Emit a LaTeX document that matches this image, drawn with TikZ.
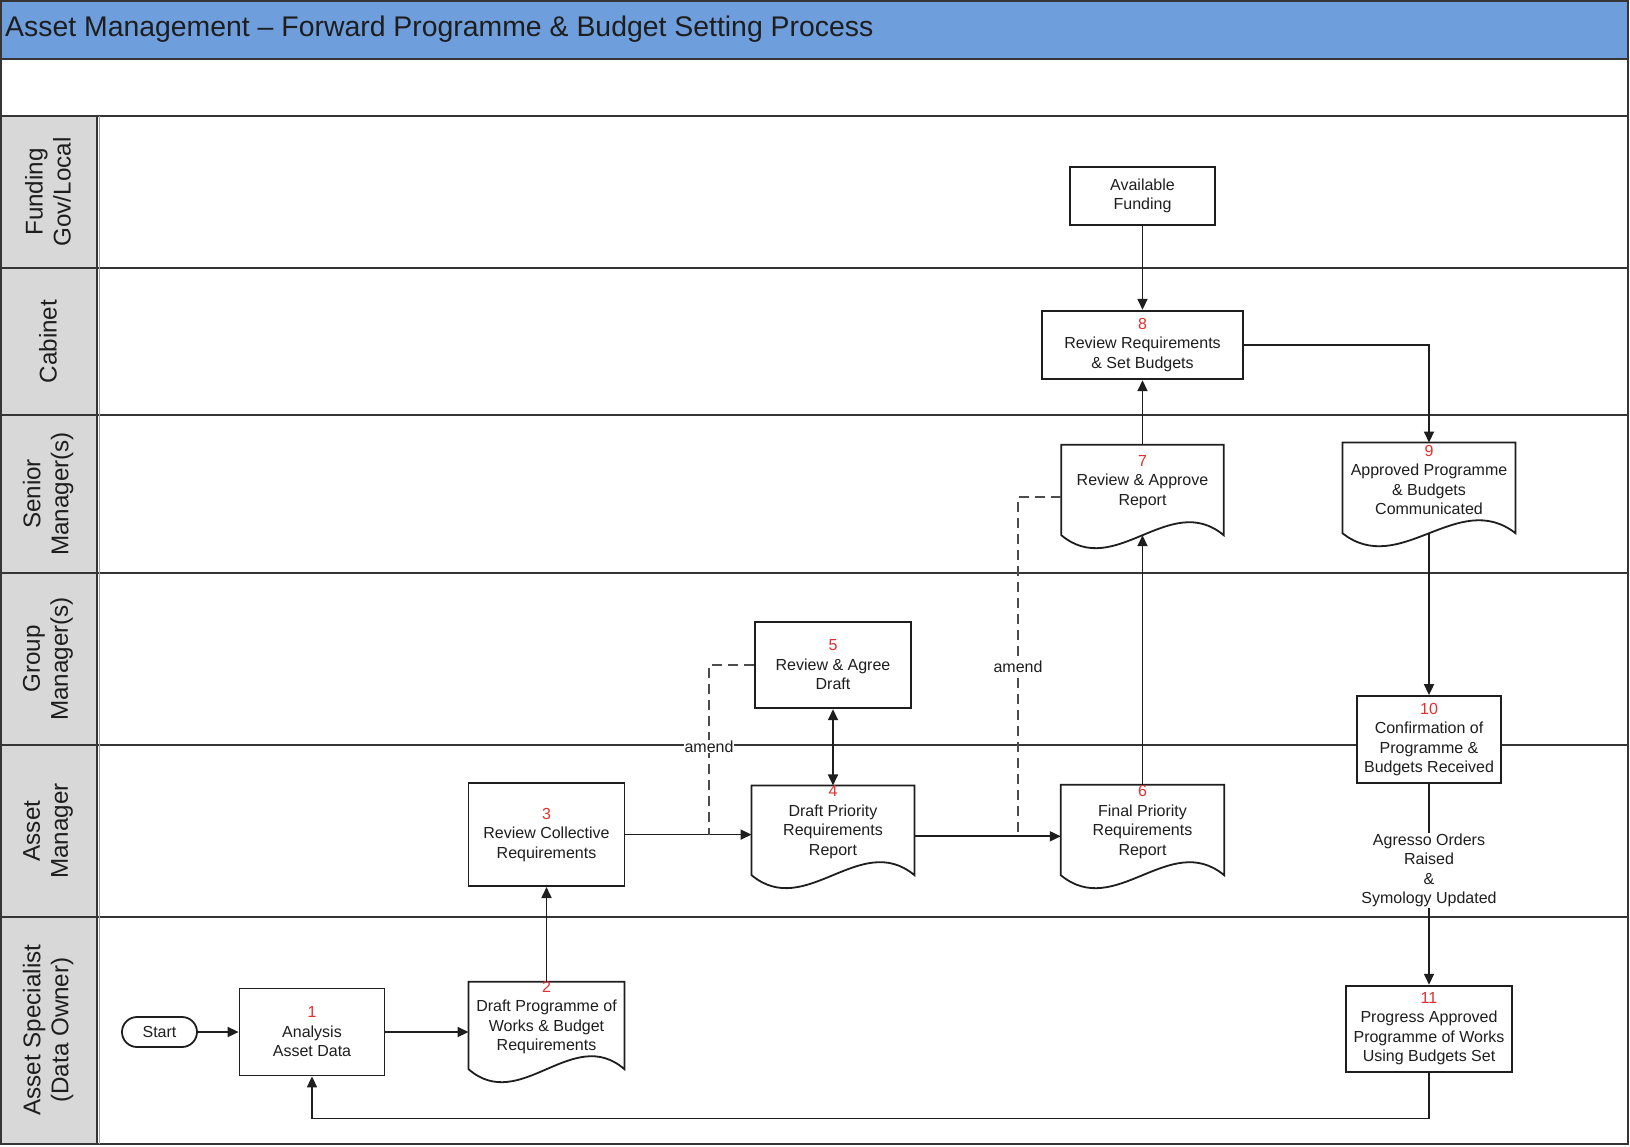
\documentclass[tikz,border=0pt]{standalone}
\usepackage{fontspec}
\setmainfont{Liberation Sans}
\usetikzlibrary{arrows.meta,calc}
\definecolor{titleblue}{RGB}{111,158,220}
\definecolor{lanegray}{RGB}{216,216,216}
\definecolor{numred}{RGB}{226,48,48}
\definecolor{ink}{RGB}{30,30,30}
\newcommand\myNodeFont{\fontsize{16}{19.5}\selectfont}
\newcommand\myTitleFont{\fontsize{28.4}{32}\selectfont}
\newcommand\myLaneFont{\fontsize{24.2}{28}\selectfont}
\newcommand\nr[1]{{\color{numred}#1}}
\newcommand\docwave[1]{%
  \draw[boxline,fill=white] (#1.north west) -- (#1.south west)
    .. controls ($(#1.south west)!0.333!(#1.south east)+(0,45)$) and ($(#1.south west)!0.667!(#1.south east)+(0,-45)$) .. (#1.south east) -- (#1.north east) -- cycle;}
\tikzset{
  tip/.tip={Triangle[length=11pt,width=10pt]},
  boxline/.style={draw=ink, line width=1.8pt},
  box/.style={boxline, fill=white, inner sep=0pt, align=center, font=\myNodeFont, text=ink},
  docbox/.style={draw=none, inner sep=0pt},
  doctext/.style={inner sep=0pt, align=center, font=\myNodeFont, text=ink, yshift=8pt},
  conn/.style={draw=ink, line width=1.7pt, -tip},
  dashline/.style={draw=black!70, line width=1.6pt, dash pattern=on 10pt off 6pt},
  amendlab/.style={fill=white, inner sep=1pt, font=\myNodeFont, text=ink},
  lanelabel/.style={rotate=90, align=center, font=\myLaneFont, text=ink, inner sep=0pt},
  laneline/.style={draw=ink!90, line width=2.2pt},
}
\begin{document}
\begin{tikzpicture}[x=1pt,y=-1pt]
\useasboundingbox (0,0) rectangle (1630,1146);
% frame
\fill[white] (0,0) rectangle (1630,1146);
\fill[titleblue] (1,1) rectangle (1628,59);
\fill[lanegray] (1,116) rectangle (97,1144);
\draw[laneline] (1,1) rectangle (1628,1144);
\foreach \yy in {59,116,268,415,573,745,917} {\draw[laneline] (1,\yy) -- (1628,\yy);}
\draw[laneline] (97,116) -- (97,1144);
\draw[black!35, line width=1pt] (99.5,116) -- (99.5,1144);
\node[anchor=west, font=\myTitleFont, text=ink, inner sep=0pt] (title) at (5,29) {Asset Management \textendash{} Forward Programme \& Budget Setting Process};
% lane labels
\node[lanelabel] (Lfund) at (48,192) {Funding\\Gov/Local};
\node[lanelabel] (Lcab) at (48,341.5) {Cabinet};
\node[lanelabel] (Lsen) at (48,494) {Senior\\Manager(s)};
\node[lanelabel] (Lgrp) at (48,659) {Group\\Manager(s)};
\node[lanelabel] (Lasm) at (48,831) {Asset\\Manager};
\node[lanelabel] (Lspec) at (48,1030) {Asset Specialist\\(Data Owner)};
% plain boxes
\node[box, rounded corners=15pt, minimum width=75pt, minimum height=30pt] (nS) at (159.5,1032) {Start};
\node[box, minimum width=145pt, minimum height=87pt] (n1) at (312,1032) {\nr{1}\\Analysis\\Asset Data};
\node[box, minimum width=156pt, minimum height=103pt] (n3) at (546.5,834.6) {\nr{3}\\Review Collective\\Requirements};
\node[box, minimum width=156pt, minimum height=86.6pt] (n5) at (833,665) {\nr{5}\\Review \& Agree\\Draft};
\node[box, minimum width=144.6pt, minimum height=58.3pt] (nAF) at (1142.5,195.8) {Available\\Funding};
\node[box, minimum width=200.5pt, minimum height=68.6pt] (n8) at (1142.5,345) {\nr{8}\\Review Requirements\\\& Set Budgets};
\node[box, minimum width=144pt, minimum height=87pt] (n10) at (1429,739.5) {\nr{10}\\Confirmation of\\Programme \&\\Budgets Received};
\node[box, minimum width=165.3pt, minimum height=86.3pt] (n11) at (1429,1028.8) {\nr{11}\\Progress Approved\\Programme of Works\\Using Budgets Set};
% document shapes
\node[docbox, minimum width=155.5pt, minimum height=87pt] (n2) at (546.5,1025.5) {};
\node[docbox, minimum width=162.5pt, minimum height=89.3pt] (n4) at (833,830.3) {};
\node[docbox, minimum width=163pt, minimum height=90pt] (n6) at (1142.5,830) {};
\node[docbox, minimum width=162pt, minimum height=90pt] (n7) at (1142.5,490) {};
\node[docbox, minimum width=172.7pt, minimum height=90.3pt] (n9) at (1429,487.9) {};
\docwave{n2}\docwave{n4}\docwave{n6}\docwave{n7}\docwave{n9}
\node[doctext] (n2t) at (n2) {\nr{2}\\Draft Programme of\\Works \& Budget\\Requirements};
\node[doctext] (n4t) at (n4) {\nr{4}\\Draft Priority\\Requirements\\Report};
\node[doctext] (n6t) at (n6) {\nr{6}\\Final Priority\\Requirements\\Report};
\node[doctext] (n7t) at (n7) {\nr{7}\\Review \& Approve\\Report};
\node[doctext] (n9t) at (n9) {\nr{9}\\Approved Programme\\\& Budgets\\Communicated};
% connectors
\draw[conn] (nS.east) -- (n1.west);
\draw[conn] (n1.east) -- (n1.east -| n2.west);
\draw[conn] (n2.north) -- (n3.south);
\draw[conn] (n3.east) -- (n3.east -| n4.west);
\draw[conn, tip-tip] (n5.south) -- (n4.north);
\draw[conn] ([yshift=-6pt]n4.east) coordinate (a46) -- (a46 -| n6.west);
\draw[conn] (n6.north) -- (n7.south);
\draw[conn] (n7.north) -- (n8.south);
\draw[conn] (nAF.south) -- (n8.north);
\draw[conn] (n8.east) -| (n9.north);
\draw[conn] (n9.south) -- (n10.north);
\draw[conn] (n10.south) -- node[pos=0.43, fill=white, inner sep=1pt, align=center, font=\myNodeFont, text=ink] (agr) {Agresso Orders\\Raised\\\&\\Symology Updated} (n11.north);
\draw[conn] (n11.south) -- ++(0,45.5) -| (n1.south);
\coordinate (j1) at (709,835);
\coordinate (j2) at (1018,836.5);
\draw[dashline] (n5.west) -| node[pos=0.74, amendlab] (am1) {amend} (j1);
\draw[dashline] ([yshift=-7pt]n7.west) -| node[pos=0.75, amendlab] (am2) {amend} (j2);
\end{tikzpicture}
\end{document}
